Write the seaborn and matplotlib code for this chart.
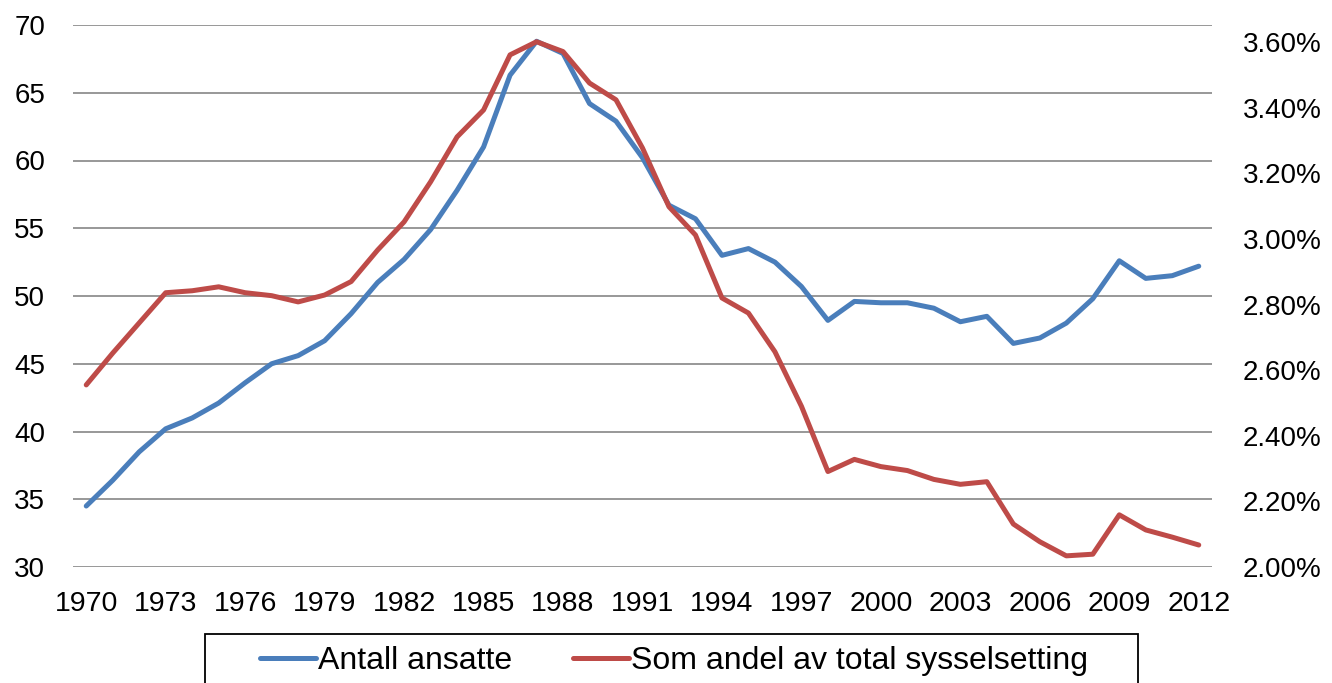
import numpy as np
import pandas as pd
import matplotlib
matplotlib.use("Agg")
import matplotlib.pyplot as plt
from matplotlib.patches import Rectangle
from matplotlib.ticker import FuncFormatter
import seaborn as sns

# data
years = list(range(1970, 2013))
antall_ansatte = [34.5, 36.4, 38.5, 40.2, 41.0, 42.1, 43.6, 45.0, 45.6, 46.7,
                  48.7, 51.0, 52.7, 54.9, 57.8, 61.0, 66.3, 68.8, 67.9, 64.2,
                  62.9, 60.2, 56.7, 55.7, 53.0, 53.5, 52.5, 50.7, 48.2, 49.6,
                  49.5, 49.5, 49.1, 48.1, 48.5, 46.5, 46.9, 48.0, 49.8, 52.6,
                  51.3, 51.5, 52.2]
andel_pct = [2.555, 2.652, 2.744, 2.836, 2.842, 2.854, 2.836, 2.827, 2.808, 2.829,
             2.870, 2.966, 3.052, 3.174, 3.311, 3.393, 3.561, 3.601, 3.571, 3.475,
             3.424, 3.277, 3.098, 3.012, 2.820, 2.774, 2.656, 2.490, 2.291, 2.328,
             2.306, 2.294, 2.267, 2.252, 2.260, 2.131, 2.077, 2.034, 2.039, 2.159,
             2.113, 2.091, 2.067]
x_ticks = list(range(1970, 2013, 3))
left_ticks = [30, 35, 40, 45, 50, 55, 60, 65, 70]
right_ticks = [2.0, 2.2, 2.4, 2.6, 2.8, 3.0, 3.2, 3.4, 3.6]
labels = ["Antall ansatte", "Som andel av total sysselsetting"]

df = pd.DataFrame({"year": years, "ansatte": antall_ansatte, "andel": andel_pct})

sns.set_theme(style="white")
plt.rcParams["font.family"] = ["Liberation Sans", "DejaVu Sans"]

blue = "#4A7EBB"
red = "#BE4B48"

fig = plt.figure(figsize=(13.32, 6.83), dpi=100)
ax = fig.add_axes([73 / 1332, 1 - 567 / 683, (1212 - 73) / 1332, (567 - 25) / 683])
ax2 = ax.twinx()

sns.lineplot(data=df, x="year", y="ansatte", ax=ax, color=blue, linewidth=3.6, legend=False)
sns.lineplot(data=df, x="year", y="andel", ax=ax2, color=red, linewidth=3.6, legend=False)

ax.set_xlim(1969.5, 2012.5)
ax.set_ylim(30, 70)
ax2.set_ylim(2.0, 3.652)
ax.set_yticks(left_ticks)
ax2.set_yticks(right_ticks)
ax.set_xticks(x_ticks)
ax2.yaxis.set_major_formatter(FuncFormatter(lambda v, p: f"{v:.2f}%"))

ax.grid(axis="y", color="#868686", linewidth=1.2)
ax.grid(axis="x", visible=False)
ax2.grid(False)
for a in (ax, ax2):
    for s in a.spines.values():
        s.set_visible(False)
    a.set_xlabel("")
    a.set_ylabel("")

ax.tick_params(axis="y", length=0, pad=20, labelsize=20, labelcolor="black")
ax.tick_params(axis="x", length=0, pad=17, labelsize=20.5, labelcolor="black")
ax2.tick_params(axis="y", length=0, pad=22, labelsize=20, labelcolor="black")

# legend box, its lower edge is cut off by the picture like in the reference
fig.patches.append(Rectangle((205 / 1332, -0.05), (1138 - 205) / 1332, (683 - 634) / 683 + 0.05,
                             transform=fig.transFigure, fill=False, ec="black", lw=1.3))
handles = [plt.Line2D([], [], color=blue, lw=3.6), plt.Line2D([], [], color=red, lw=3.6)]
fig.legend(handles, labels, loc="center", bbox_to_anchor=(674 / 1332, 1 - 661 / 683),
           ncol=2, frameon=False, fontsize=23, labelcolor="black", handlelength=1.75,
           handletextpad=0.06, columnspacing=1.9)

fig.savefig("out.png", dpi=100)
